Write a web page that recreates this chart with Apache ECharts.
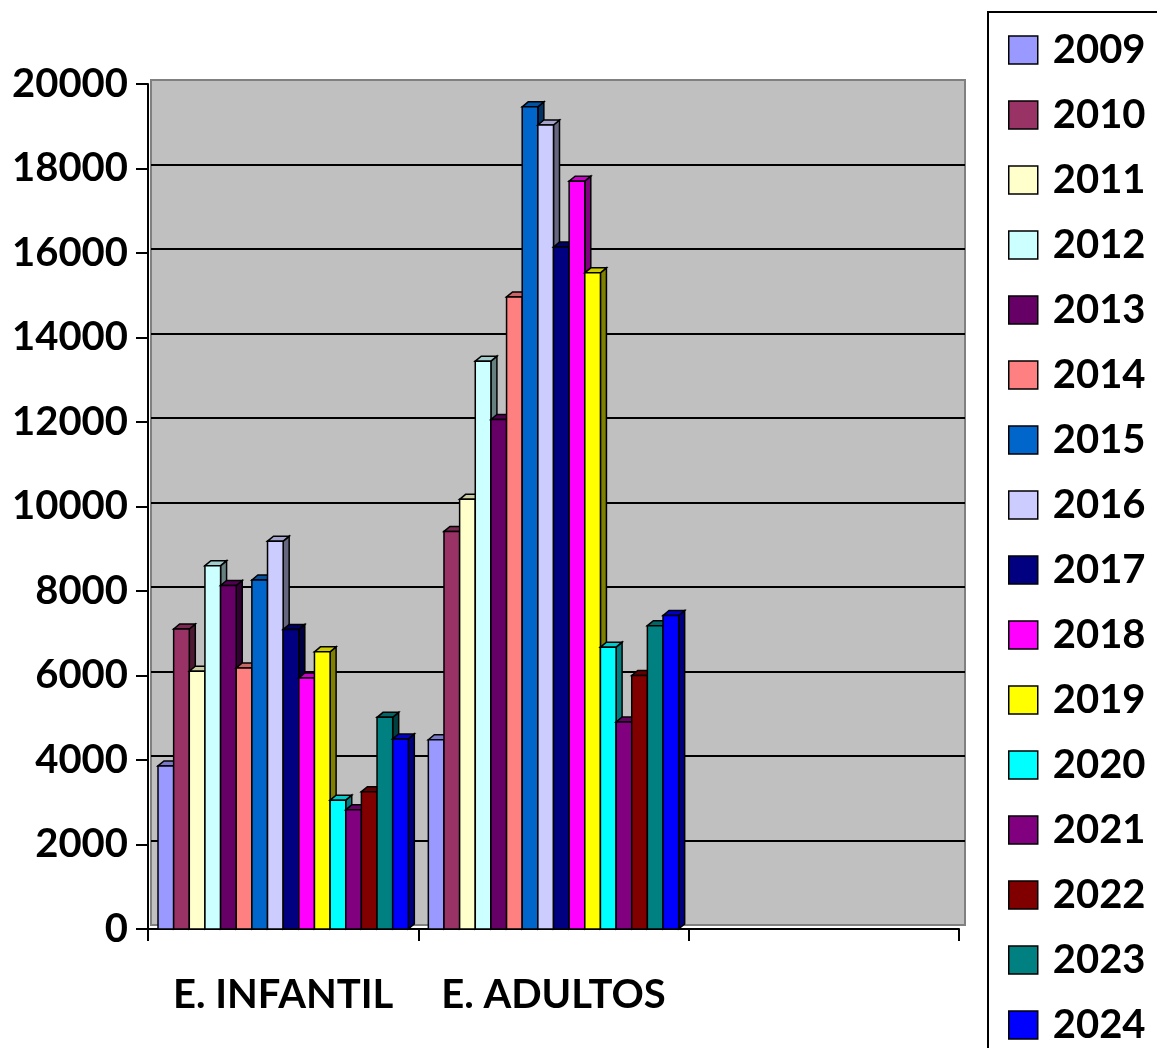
<!DOCTYPE html>
<html>
<head>
<meta charset="utf-8">
<script src="https://cdn.jsdelivr.net/npm/echarts@6/dist/echarts.min.js"></script>
<style>
  html, body { margin: 0; padding: 0; background: #ffffff; }
  #chart { width: 1157px; height: 1048px; }
</style>
</head>
<body>
<div id="chart"></div>
<script>
// Enrolment per year for each education stage
const categories = ['E. INFANTIL', 'E. ADULTOS', ''];
const years = ['2009', '2010', '2011', '2012', '2013', '2014', '2015', '2016',
               '2017', '2018', '2019', '2020', '2021', '2022', '2023', '2024'];
const infantil = [3860, 7100, 6100, 8600, 8130, 6180, 8260, 9180,
                  7090, 5940, 6560, 3050, 2820, 3250, 5010, 4500];
const adultos  = [4480, 9410, 10170, 13440, 12060, 14960, 19460, 19030,
                  16140, 17700, 15530, 6670, 4900, 6000, 7180, 7420];
const yTicks = { min: 0, max: 20000, step: 2000 };

const palette = ['#9999FF', '#993366', '#FFFFCC', '#CCFFFF', '#660066', '#FF8080',
                 '#0066CC', '#CCCCFF', '#000080', '#FF00FF', '#FFFF00', '#00FFFF',
                 '#800080', '#800000', '#008080', '#0000FF'];

const FONT = 'Lato, "Open Sans", sans-serif';

function shade(hex, k) {
  const n = parseInt(hex.slice(1), 16);
  const r = Math.round(((n >> 16) & 255) * k);
  const g = Math.round(((n >> 8) & 255) * k);
  const b = Math.round((n & 255) * k);
  return 'rgb(' + r + ',' + g + ',' + b + ')';
}

const GAP_RATIO = 0.074;   // free space inside each category band
const DEPTH_X = 6, DEPTH_Y = 5;  // pseudo-3D extrusion of the columns

function makeRender(color) {
  return function (params, api) {
    const n = years.length;
    const idx = params.seriesIndex;
    const cat = api.value(0);
    const val = api.value(1);
    const band = api.size([1, 0])[0];
    const gap = band * GAP_RATIO;
    const w = (band - gap) / n;
    const base = api.coord([cat, 0]);
    const top = api.coord([cat, val])[1];
    const bottom = base[1];
    const x0 = base[0] - band / 2 + gap / 2 + idx * w;
    const x1 = x0 + w;
    const stroke = { stroke: '#000', lineWidth: 1.5, lineJoin: 'miter' };
    return {
      type: 'group',
      children: [
        {
          type: 'polygon',
          shape: { points: [[x1, top], [x1 + DEPTH_X, top - DEPTH_Y],
                            [x1 + DEPTH_X, bottom - DEPTH_Y], [x1, bottom]] },
          style: Object.assign({ fill: shade(color, 0.5) }, stroke)
        },
        {
          type: 'polygon',
          shape: { points: [[x0, top], [x0 + DEPTH_X, top - DEPTH_Y],
                            [x1 + DEPTH_X, top - DEPTH_Y], [x1, top]] },
          style: Object.assign({ fill: shade(color, 0.8) }, stroke)
        },
        {
          type: 'rect',
          shape: { x: x0, y: top, width: w, height: bottom - top },
          style: Object.assign({ fill: color }, stroke)
        }
      ]
    };
  };
}

const series = years.map(function (y, i) {
  return {
    name: y,
    type: 'custom',
    xAxisIndex: 1,
    yAxisIndex: 1,
    itemStyle: { color: palette[i] },
    renderItem: makeRender(palette[i]),
    data: [[0, infantil[i]], [1, adultos[i]]]
  };
});

// gridlines on the back wall: first and last lines are the wall's edges
const wallLineColors = [];
for (let v = yTicks.min; v <= yTicks.max; v += yTicks.step) {
  wallLineColors.push(v === yTicks.min || v === yTicks.max ? '#808080' : '#000000');
}

const chart = echarts.init(document.getElementById('chart'), null, { renderer: 'canvas' });
chart.setOption({
  backgroundColor: '#ffffff',
  animation: false,
  grid: [
    { // back wall
      show: true, left: 151, top: 80, width: 814, height: 845,
      backgroundColor: '#C0C0C0', borderColor: '#808080', borderWidth: 2
    },
    { // front plane
      left: 148, top: 84, width: 811, height: 845
    }
  ],
  xAxis: [
    { type: 'value', gridIndex: 0, show: false, min: 0, max: 1 },
    {
      type: 'category', gridIndex: 1, data: categories, boundaryGap: true,
      axisLine: { lineStyle: { color: '#000', width: 2 } },
      axisTick: { show: true, interval: 0, length: 12, lineStyle: { color: '#000', width: 2 } },
      axisLabel: { interval: 0, color: '#000', fontFamily: FONT, fontWeight: 'bold', fontSize: 40, margin: 46 }
    }
  ],
  yAxis: [
    {
      type: 'value', gridIndex: 0, min: yTicks.min, max: yTicks.max, interval: yTicks.step,
      axisLine: { show: false }, axisTick: { show: false }, axisLabel: { show: false },
      splitLine: { show: true, lineStyle: { color: wallLineColors, width: 2 } }
    },
    {
      type: 'value', gridIndex: 1, min: yTicks.min, max: yTicks.max, interval: yTicks.step,
      axisLine: { show: true, lineStyle: { color: '#000', width: 2 } },
      axisTick: { show: true, length: 12, lineStyle: { color: '#000', width: 2 } },
      splitLine: { show: false },
      axisLabel: {
        color: '#000', fontFamily: FONT, fontWeight: 'bold', fontSize: 40, margin: 20,
        formatter: function (v) { return String(v); }
      }
    }
  ],
  legend: {
    orient: 'vertical',
    left: 988, top: 12, height: 1100,
    padding: [18, 60, 30, 20],
    borderColor: '#000', borderWidth: 2,
    backgroundColor: '#fff',
    icon: 'rect',
    itemWidth: 29, itemHeight: 28, itemGap: 25,
    itemStyle: { borderColor: '#000', borderWidth: 1.5 },
    textStyle: {
      color: '#000', fontFamily: FONT, fontWeight: 'bold', fontSize: 40,
      padding: [0, 0, 0, 10]
    },
    data: years
  },
  series: series
});
</script>
</body>
</html>
